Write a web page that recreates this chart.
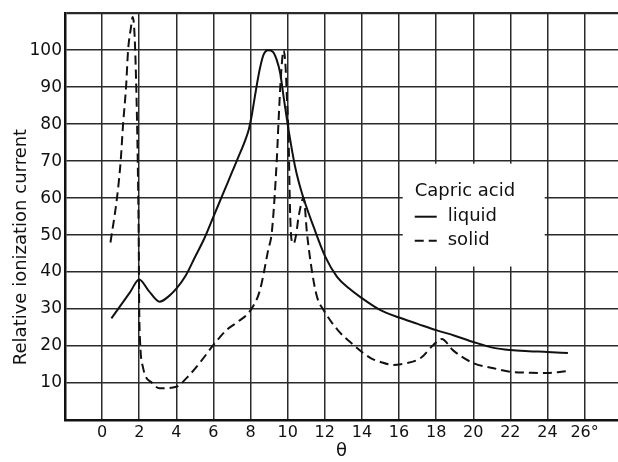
<!DOCTYPE html>
<html>
<head>
<meta charset="utf-8">
<script src="https://cdn.jsdelivr.net/npm/chart.js@4.4.1/dist/chart.umd.min.js"></script>
<style>
    html, body { margin: 0; padding: 0; background: #fff; }
    #wrap { width: 618px; height: 462px; }
</style>
</head>
<body>
<div id="wrap"><canvas id="myChart"></canvas></div>
<script>
// values (theta in degrees, relative current)
const liquidX = [0.5, 1.0, 1.5, 2.0, 2.5, 3.1, 3.6, 4.0, 4.5, 5.0, 5.5, 6.0, 6.5, 7.0, 7.35, 7.7, 7.9, 8.05, 8.2, 8.35, 8.5, 8.7, 8.95, 9.2, 9.4, 9.6, 9.78, 10.05, 10.4, 10.77, 11.4, 12.03, 12.66, 13.3, 13.9, 15.0, 16.0, 17.0, 18.0, 19.0, 20.0, 21.1, 22.0, 23.0, 24.0, 25.1];
const liquidY = [27.5, 31, 34.5, 38, 35, 32, 33.5, 35.5, 39, 44, 49, 55, 61, 67, 71.2, 75.5, 78.5, 82, 86.5, 91, 95, 98.8, 100, 99.6, 97.5, 93.7, 87.4, 78.4, 68.5, 61.3, 52.2, 44.1, 38.7, 35.6, 33.3, 29.7, 27.7, 26, 24.3, 22.8, 21.1, 19.5, 18.9, 18.6, 18.4, 18.1];

const solidX = [0.45, 0.8, 1.0, 1.13, 1.29, 1.4, 1.55, 1.65, 1.75, 1.85, 1.92, 1.97, 2.0, 2.05, 2.2, 2.7, 3.1, 4.0, 4.6, 5.3, 6.0, 6.7, 7.3, 8.0, 8.5, 8.95, 9.15, 9.42, 9.5, 9.65, 9.78, 9.88, 9.96, 10.05, 10.12, 10.2, 10.32, 10.45, 10.59, 10.86, 11.04, 11.3, 11.58, 11.94, 12.7, 13.55, 14.45, 15.0, 15.7, 16.1, 17.15, 17.85, 18.3, 18.9, 20.0, 21.1, 22.0, 23.0, 24.0, 25.0];
const solidY = [48, 60, 70, 80, 90, 100, 106, 109, 104, 88, 70, 50, 30, 20.8, 14.3, 10, 8.6, 9, 11.6, 15.7, 20.3, 24.3, 26.5, 29.7, 35, 46, 51, 71, 80, 94, 100, 96, 87, 76, 58, 49, 47.7, 50, 55, 60, 50.5, 40.5, 33.3, 29.7, 24.3, 20.3, 16.8, 15.7, 14.9, 15.1, 16.7, 20.3, 21.9, 18.9, 15.4, 14, 13, 12.8, 12.7, 13.2];

const xTickLabels = ["0", "2", "4", "6", "8", "10", "12", "14", "16", "18", "20", "22", "24", "26°"];
const yTickLabels = ["10", "20", "30", "40", "50", "60", "70", "80", "90", "100"];

const legendTitle = "Capric acid";
const yTitle = "Relative ionization current";
const xTitle = "θ";

const ink = "#111";
const gridInk = "#2a2a2a";
const font = "DejaVu Sans";

function toPoints(xs, ys) {
    return xs.map((x, i) => ({ x: x, y: ys[i] }));
}

// y axis title sits lower than the centre of the plot in the original
const yTitlePlugin = {
    id: "yTitlePlugin",
    afterDraw(chart) {
        const ctx = chart.ctx;
        ctx.save();
        ctx.translate(21, 247);
        ctx.rotate(-Math.PI / 2);
        ctx.font = "18px '" + font + "'";
        ctx.fillStyle = ink;
        ctx.textAlign = "center";
        ctx.textBaseline = "middle";
        ctx.fillText(yTitle, 0, 0);
        ctx.restore();
    },
};

// legend drawn inside the plot on a white patch that hides the grid
const legendBox = {
    id: "legendBox",
    afterDraw(chart) {
        const { ctx } = chart;
        const x = chart.scales.x;
        const y = chart.scales.y;
        const left = x.getPixelForValue(16.2);
        const right = x.getPixelForValue(23.85);
        const top = y.getPixelForValue(69.3);
        const bottom = y.getPixelForValue(41.5);
        ctx.save();
        ctx.fillStyle = "#fff";
        ctx.fillRect(left, top, right - left, bottom - top);

        const tx = left + 12;
        ctx.fillStyle = ink;
        ctx.font = "18px '" + font + "'";
        ctx.textBaseline = "middle";
        ctx.textAlign = "left";
        ctx.fillText(legendTitle, tx, top + 28);

        chart.data.datasets.forEach((ds, i) => {
            const rowY = top + 53 + i * 24;
            ctx.beginPath();
            ctx.strokeStyle = ds.borderColor;
            ctx.lineWidth = 2;
            ctx.setLineDash(ds.borderDash || []);
            ctx.moveTo(tx, rowY);
            ctx.lineTo(tx + 22, rowY);
            ctx.stroke();
            ctx.setLineDash([]);
            ctx.fillText(ds.label, tx + 33, rowY);
        });
        ctx.restore();
    },
};

const ctx = document.getElementById("myChart").getContext("2d");
const chart = new window.Chart(ctx, {
    type: "line",
    data: {
        datasets: [
            {
                label: "liquid",
                data: toPoints(liquidX, liquidY),
                borderColor: ink,
                borderWidth: 2,
                pointRadius: 0,
                cubicInterpolationMode: "monotone",
                fill: false,
            },
            {
                label: "solid",
                data: toPoints(solidX, solidY),
                borderColor: ink,
                borderWidth: 2,
                borderDash: [9, 5],
                pointRadius: 0,
                cubicInterpolationMode: "monotone",
                fill: false,
            },
        ],
    },
    options: {
        responsive: true,
        maintainAspectRatio: false,
        animation: false,
        devicePixelRatio: 1,
        layout: {
            padding: { top: 12, right: 0, bottom: 0, left: 0 },
        },
        plugins: {
            legend: { display: false },
            tooltip: { enabled: false },
        },
        scales: {
            x: {
                type: "linear",
                min: -2,
                max: 27.8,
                afterFit: (scale) => {
                    scale.height = 42;
                },
                afterBuildTicks: (scale) => {
                    const t = [];
                    for (let v = -2; v <= 26; v += 2) t.push({ value: v });
                    scale.ticks = t;
                },
                ticks: {
                    autoSkip: false,
                    maxRotation: 0,
                    padding: 3,
                    color: ink,
                    font: { family: font, size: 16 },
                    callback: (value) => {
                        const i = value / 2;
                        return i >= 0 ? xTickLabels[i] : "";
                    },
                },
                grid: {
                    color: gridInk,
                    lineWidth: 1.5,
                    drawTicks: false,
                },
                border: { display: true, color: ink, width: 2.5 },
                title: {
                    display: true,
                    text: xTitle,
                    color: ink,
                    font: { family: font, size: 18 },
                    padding: { top: 0, bottom: 0 },
                },
            },
            y: {
                min: 0,
                max: 110,
                afterFit: (scale) => {
                    scale.width = 65;
                },
                ticks: {
                    stepSize: 10,
                    padding: 3,
                    color: ink,
                    font: { family: font, size: 17 },
                    callback: (value) => {
                        const i = value / 10 - 1;
                        return i >= 0 && i < yTickLabels.length ? yTickLabels[i] : "";
                    },
                },
                grid: {
                    color: gridInk,
                    lineWidth: (c) => (c.tick && c.tick.value === 110 ? 2.2 : 1.5),
                    drawTicks: false,
                },
                border: { display: true, color: ink, width: 2.5 },
            },
        },
    },
    plugins: [yTitlePlugin, legendBox],
});
</script>
</body>
</html>
